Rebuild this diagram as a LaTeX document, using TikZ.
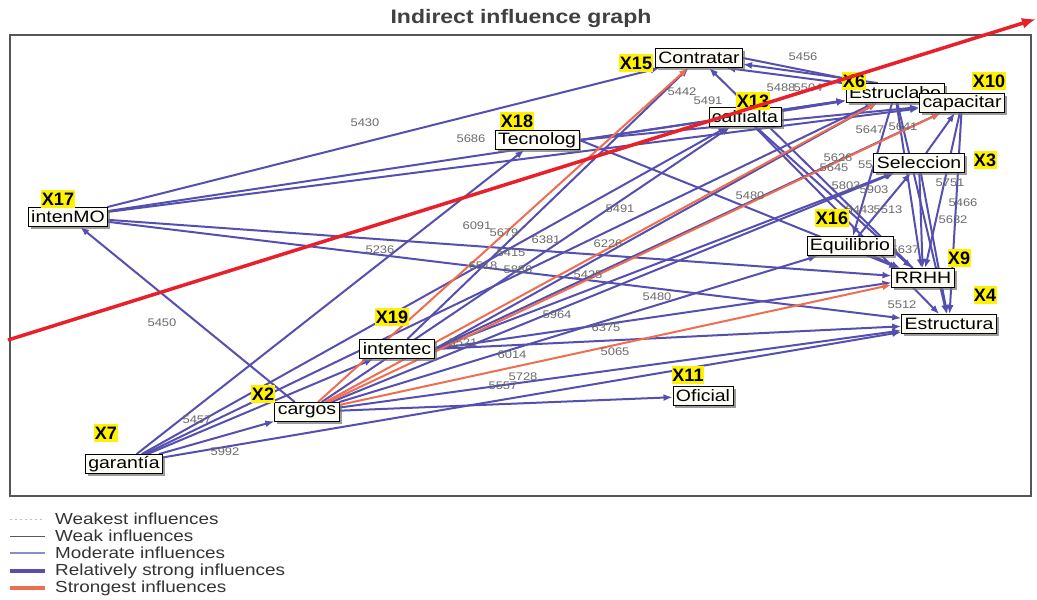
\documentclass[tikz,border=0pt]{standalone}
\usepackage{fontspec}
\setmainfont{Liberation Sans}
\newfontfamily\wfont[FakeStretch=1.18]{Liberation Sans}
\usetikzlibrary{arrows.meta,shadows}
\definecolor{edgeblue}{HTML}{5550AF}
\definecolor{edgeorange}{HTML}{F06E50}
\definecolor{tagyellow}{HTML}{FFF200}
\definecolor{trendred}{HTML}{E8202A}
\definecolor{framegray}{HTML}{555555}
\definecolor{boxfill}{HTML}{FDFDF6}
\definecolor{modblue}{HTML}{8C8CD0}
\pgfdeclarelayer{background}
\pgfdeclarelayer{edges}
\pgfsetlayers{background,edges,main}

\begin{document}
\begin{tikzpicture}[x=1pt,y=-1pt,
  var/.style={draw=black, line width=0.9pt, fill=boxfill, inner xsep=3pt, inner ysep=0pt,
    minimum height=19pt, font=\wfont\fontsize{16.5}{18}\selectfont,
    drop shadow={shadow xshift=2.5pt,shadow yshift=-2.5pt,fill=black!55,opacity=0.7}},
  tag/.style={fill=tagyellow, inner xsep=0.5pt, inner ysep=0pt, minimum height=18pt,
    font=\bfseries\fontsize{18}{18}\selectfont},
  wt/.style={text=black!58, inner sep=0pt, font=\wfont\fontsize{11}{12}\selectfont},
  rs/.style={draw=edgeblue, line width=2pt, -{Latex[length=9pt,width=7pt]}},
  st/.style={draw=edgeorange, line width=2pt, -{Latex[length=9pt,width=7pt]}},
  legtxt/.style={anchor=west, inner sep=0pt, text=black!80, font=\wfont\fontsize{16}{17}\selectfont},
]
\useasboundingbox (0,0) rectangle (1037,600);
\begin{pgfonlayer}{background}
\fill[white] (0,0) rectangle (1037,600);
\end{pgfonlayer}

% title and frame
\node[text=black!75, font=\wfont\bfseries\fontsize{19.5}{20}\selectfont] (title) at (521,18) {Indirect influence graph};
\draw[framegray, line width=1.5pt] (10,35) rectangle (1031,496);

% weight labels
\node[wt] (w1) at (803,57) {5456};
\node[wt] (w2) at (682,92) {5442};
\node[wt] (w3) at (708,101) {5491};
\node[wt] (w4) at (781,88) {5488};
\node[wt] (w5) at (808,88) {5504};
\node[wt] (w6) at (365,123) {5430};
\node[wt] (w7) at (471,139) {5686};
\node[wt] (w8) at (870,130) {5647};
\node[wt] (w9) at (903,127) {5641};
\node[wt] (w10) at (838,158) {5626};
\node[wt] (w11) at (834,168) {5645};
\node[wt, anchor=west] (w12) at (858,165) {55};
\node[wt] (w13) at (846,186) {5803};
\node[wt] (w14) at (874,190) {5903};
\node[wt] (w15) at (860,210) {5443};
\node[wt] (w16) at (888,210) {5513};
\node[wt] (w17) at (950,183) {5751};
\node[wt] (w18) at (963,203) {5466};
\node[wt] (w19) at (953,220) {5632};
\node[wt] (w20) at (905,250) {5637};
\node[wt] (w21) at (902,305) {5512};
\node[wt] (w22) at (750,196) {5480};
\node[wt] (w23) at (657,297) {5480};
\node[wt] (w24) at (620,209) {5491};
\node[wt] (w25) at (477,226) {6091};
\node[wt] (w26) at (504,233) {5679};
\node[wt] (w27) at (546,240) {6381};
\node[wt] (w28) at (608,244) {6226};
\node[wt] (w29) at (511,253) {5415};
\node[wt] (w30) at (380,250) {5236};
\node[wt] (w31) at (483,266) {6518};
\node[wt] (w32) at (518,270) {5886};
\node[wt] (w33) at (588,275) {5425};
\node[wt] (w34) at (557,315) {5964};
\node[wt] (w35) at (606,328) {6375};
\node[wt] (w36) at (463,343) {5521};
\node[wt] (w37) at (512,355) {6014};
\node[wt] (w38) at (615,352) {5065};
\node[wt] (w39) at (523,377) {5728};
\node[wt] (w40) at (503,386) {5557};
\node[wt] (w41) at (162,323) {5450};
\node[wt] (w42) at (197,420) {5457};
\node[wt] (w43) at (225,452) {5992};

% variables
\node[var] (Contratar) at (699,58) {Contratar};
\node[var] (Estruclabo) at (895,93) {Estruclabo};
\node[var] (capacitar) at (962,103) {capacitar};
\node[var] (calfialta) at (745,117) {calfialta};
\node[var] (Tecnolog) at (537,140) {Tecnolog};
\node[var] (Seleccion) at (919,163) {Seleccion};
\node[var] (intenMO) at (68,217) {intenMO};
\node[var] (Equilibrio) at (850,246) {Equilibrio};
\node[var] (RRHH) at (923,278) {RRHH};
\node[var] (Estructura) at (949,324) {Estructura};
\node[var] (intentec) at (397,349) {intentec};
\node[var] (Oficial) at (703,396) {Oficial};
\node[var] (cargos) at (307,412) {cargos};
\node[var] (garantia) at (124,464) {garantía};

% influences
\begin{pgfonlayer}{edges}
\draw[rs] (intenMO) -- (Contratar);
\draw[rs] (intenMO) -- (Estruclabo);
\draw[rs] (intenMO) -- (capacitar);
\draw[rs] (intenMO) -- (RRHH);
\draw[rs] (intenMO) -- (Estructura);
\draw[rs] (cargos) -- (intenMO);
\draw[rs] (garantia) -- (Tecnolog);
\draw[rs] (garantia) -- (cargos);
\draw[rs] (garantia) -- (intentec);
\draw[rs] (garantia) -- (calfialta);
\draw[rs] (garantia) -- (Estruclabo);
\draw[rs] (garantia) -- (Estructura);
\draw[rs] (cargos) -- (Oficial);
\draw[rs] (cargos) -- (Estructura);
\draw[rs] (cargos) -- (Equilibrio);
\draw[rs] (cargos) -- (Seleccion);
\draw[rs] (cargos) -- (calfialta);
\draw[rs] (intentec) -- (Contratar);
\draw[rs] (intentec.east) -- (Estruclabo);
\draw[rs] (intentec.east) -- (capacitar);
\draw[rs] (intentec.east) -- (Seleccion);
\draw[rs] (intentec.east) -- (RRHH);
\draw[rs] (intentec.east) -- (Estructura);
\draw[rs] (Tecnolog.east) -- (RRHH);
\draw[rs] (Tecnolog.east) -- (Estruclabo);
\draw[rs] (Tecnolog.east) -- (capacitar);
\draw[rs] (calfialta) -- (Estruclabo);
\draw[rs] (calfialta) -- (RRHH);
\draw[rs] (calfialta) -- (Estructura);
\draw[rs] (Contratar.east) -- (Estruclabo.160);
\draw[rs] (Estruclabo.150) -- (Contratar.-8);
\draw[rs] (capacitar.north west) -- (Contratar.-20);
\draw[rs] (Estruclabo) -- (RRHH);
\draw[rs] (Estruclabo) -- (Estructura);
\draw[rs] (Estruclabo) -- (Equilibrio);
\draw[rs] (Seleccion) -- (capacitar);
\draw[rs] (Seleccion) -- (RRHH);
\draw[rs] (Seleccion) -- (Estructura);
\draw[rs] (capacitar) -- (RRHH);
\draw[rs] (capacitar) -- (Estructura);
\draw[rs] (Equilibrio) -- (Seleccion);
\draw[rs] (Equilibrio) -- (RRHH);
\draw[rs] (RRHH) -- (Contratar);
\draw[st] (cargos) -- (Contratar);
\draw[st] (cargos) -- (Estruclabo);
\draw[st] (cargos) -- (capacitar);
\draw[st] (cargos) -- (RRHH);
\end{pgfonlayer}

% variable codes
\node[tag] (t15) at (636,63) {X15};
\node[tag] (t6) at (854,81) {X6};
\node[tag] (t10) at (989,81) {X10};
\node[tag] (t13) at (753,101) {X13};
\node[tag] (t18) at (517,121) {X18};
\node[tag] (t3) at (985,160) {X3};
\node[tag] (t17) at (58,199) {X17};
\node[tag] (t16) at (832,218) {X16};
\node[tag] (t9) at (959,258) {X9};
\node[tag] (t4) at (985,295) {X4};
\node[tag] (t19) at (392,317) {X19};
\node[tag] (t11) at (688,375) {X11};
\node[tag] (t2) at (263,394) {X2};
\node[tag] (t7) at (106,433) {X7};

% legend
\coordinate (l1a) at (10,519); \coordinate (l1b) at (45,519);
\coordinate (l2a) at (10,536); \coordinate (l2b) at (45,536);
\coordinate (l3a) at (10,553); \coordinate (l3b) at (45,553);
\coordinate (l4a) at (10,571); \coordinate (l4b) at (45,571);
\coordinate (l5a) at (10,588); \coordinate (l5b) at (45,588);
\draw[black!25, line width=0.8pt, dash pattern=on 2pt off 3pt] (l1a) -- (l1b);
\draw[black!65, line width=1pt] (l2a) -- (l2b);
\draw[modblue, line width=1.2pt] (l3a) -- (l3b);
\draw[edgeblue, line width=3.5pt] (l4a) -- (l4b);
\draw[edgeorange, line width=3.5pt] (l5a) -- (l5b);
\node[legtxt] (g1) at (55,519) {Weakest influences};
\node[legtxt] (g2) at (55,536) {Weak influences};
\node[legtxt] (g3) at (55,553) {Moderate influences};
\node[legtxt] (g4) at (55,571) {Relatively strong influences};
\node[legtxt] (g5) at (55,588) {Strongest influences};

% trend line
\coordinate (ra) at (8,340);
\coordinate (rb) at (1036,19);
\draw[trendred, line width=3.5pt, -{Latex[length=14pt,width=11pt]}] (ra) -- (rb);
\end{tikzpicture}
\end{document}
